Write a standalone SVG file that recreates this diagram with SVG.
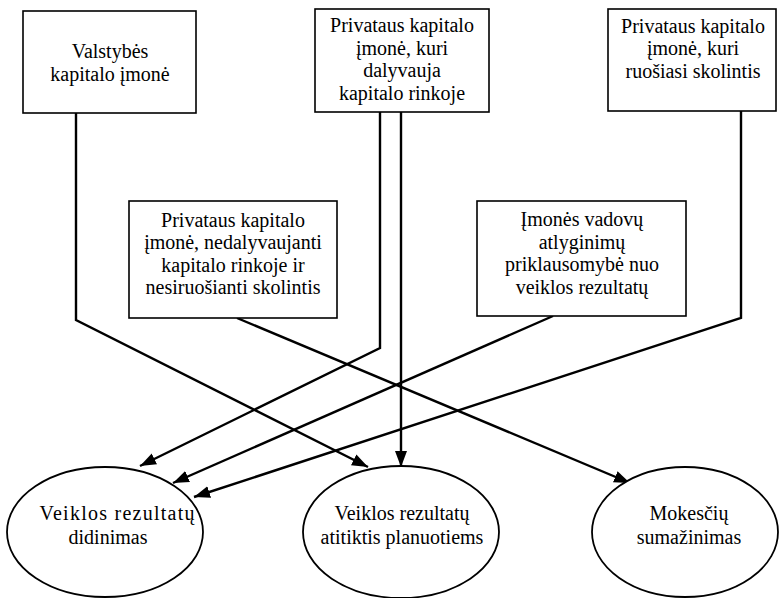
<svg xmlns="http://www.w3.org/2000/svg" width="780" height="598" viewBox="0 0 780 598">
<style>
.box{fill:#fff;stroke:#000;stroke-width:1.6}
.ell{fill:#fff;stroke:#000;stroke-width:1.8}
.t{font-family:'Liberation Serif','Times New Roman','DejaVu Serif',serif;font-size:20px;fill:#000;text-anchor:middle}
.c{fill:none;stroke:#000;stroke-width:2.4;stroke-linejoin:miter}
</style>
<defs>
<marker id="ah" markerUnits="userSpaceOnUse" markerWidth="18" markerHeight="14" refX="16" refY="6" orient="auto" viewBox="0 0 18 12">
<path d="M0,0 L16,6 L0,12 Z" fill="#000"/>
</marker>
</defs>
<rect width="780" height="598" fill="#fff"/>
<g id="connectors">
<polyline class="c" points="380,112 380,348 140,466" marker-end="url(#ah)"/>
<polyline class="c" points="553,316 173,483" marker-end="url(#ah)"/>
<polyline class="c" points="741,111 741,318 194,497" marker-end="url(#ah)"/>
<polyline class="c" points="76,113 76,320 368,467" marker-end="url(#ah)"/>
<polyline class="c" points="401,112 401,467" marker-end="url(#ah)"/>
<polyline class="c" points="237,318 630,483" marker-end="url(#ah)"/>
</g>
<g id="n1">
<rect class="box" x="23" y="11" width="173" height="102"/>
<text class="t" x="110" y="58">Valstybės</text>
<text class="t" x="110" y="81">kapitalo įmonė</text>
</g>
<g id="n2">
<rect class="box" x="315" y="9" width="174" height="103"/>
<text class="t" x="402" y="32">Privataus kapitalo</text>
<text class="t" x="402" y="55">įmonė, kuri</text>
<text class="t" x="402" y="77">dalyvauja</text>
<text class="t" x="402" y="100">kapitalo rinkoje</text>
</g>
<g id="n3">
<rect class="box" x="608" y="9" width="168" height="102"/>
<text class="t" x="693" y="33">Privataus kapitalo</text>
<text class="t" x="693" y="55">įmonė, kuri</text>
<text class="t" x="693" y="78">ruošiasi skolintis</text>
</g>
<g id="n4">
<rect class="box" x="129" y="201" width="208" height="117"/>
<text class="t" x="233" y="227">Privataus kapitalo</text>
<text class="t" x="233" y="249">įmonė, nedalyvaujanti</text>
<text class="t" x="233" y="272">kapitalo rinkoje ir</text>
<text class="t" x="233" y="294">nesiruošianti skolintis</text>
</g>
<g id="n5">
<rect class="box" x="477" y="201" width="209" height="115"/>
<text class="t" x="582" y="226">Įmonės vadovų</text>
<text class="t" x="582" y="249">atlyginimų</text>
<text class="t" x="582" y="271">priklausomybė nuo</text>
<text class="t" x="582" y="294">veiklos rezultatų</text>
</g>
<g id="e1">
<ellipse class="ell" cx="105" cy="532" rx="98" ry="65"/>
<text class="t" x="117" y="520" textLength="155" lengthAdjust="spacing">Veiklos rezultatų</text>
<text class="t" x="108" y="544">didinimas</text>
</g>
<g id="e2">
<ellipse class="ell" cx="401" cy="532" rx="98" ry="66"/>
<text class="t" x="402" y="520">Veiklos rezultatų</text>
<text class="t" x="402" y="544">atitiktis planuotiems</text>
</g>
<g id="e3">
<ellipse class="ell" cx="685" cy="532" rx="93" ry="65"/>
<text class="t" x="689" y="520">Mokesčių</text>
<text class="t" x="689" y="544">sumažinimas</text>
</g>
</svg>
